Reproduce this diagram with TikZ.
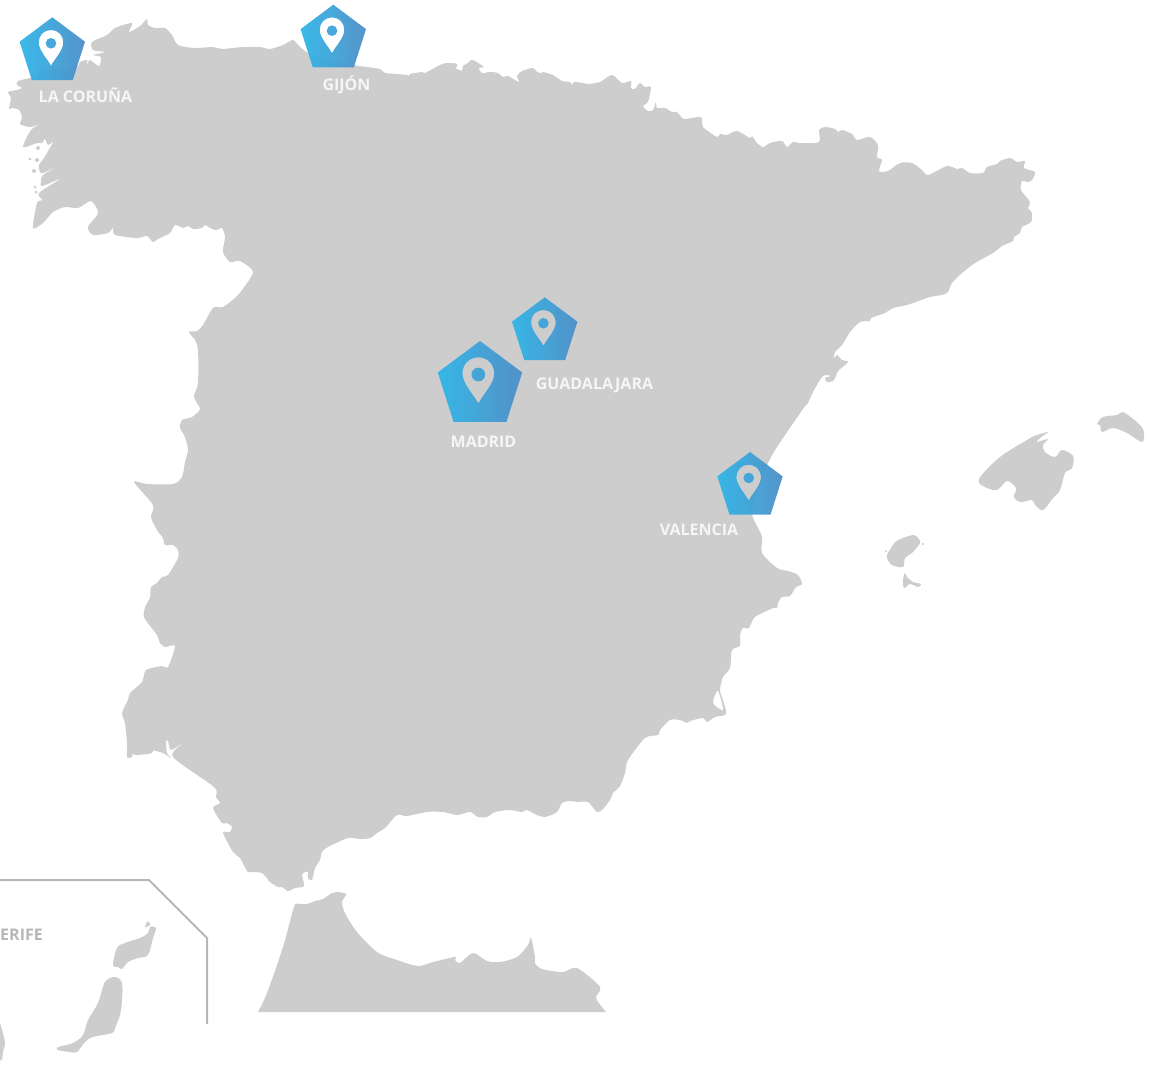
\documentclass[tikz,border=0pt]{standalone}
\usepackage{fontspec}
\setmainfont{Open Sans}
\definecolor{land}{HTML}{CDCDCD}
\definecolor{gradL}{HTML}{2FB6E8}
\definecolor{gradR}{HTML}{4D8EC7}
\definecolor{inset}{HTML}{B6B6B6}
\definecolor{labelw}{HTML}{F6F6F6}
\tikzset{
  landmass/.style={fill=land,draw=none},
  citylabel/.style={text=labelw,font=\bfseries\fontsize{16bp}{18bp}\selectfont,inner sep=0pt,anchor=base},
  insetlabel/.style={text=inset,font=\bfseries\fontsize{16bp}{18bp}\selectfont,inner sep=0pt,anchor=base east},
  insetline/.style={draw=inset,line width=2bp},
  markshade/.style={even odd rule,left color=gradL,right color=gradR,opacity=.95}
}
\newcommand{\pinmark}[3]{%
  \begin{scope}[shift={(#1,#2)},scale=#3]
    \shade[markshade]
      (0,0) -- (32.7,24.4) -- (20.5,62.7) -- (-20.5,62.7) -- (-32.7,24.4) -- cycle
      (-1.3,48.4) .. controls (-5.3,41) and (-13.6,33) .. (-13.6,25)
        .. controls (-13.6,18) and (-8.3,12.7) .. (-1.3,12.7)
        .. controls (5.7,12.7) and (11,18) .. (11,25)
        .. controls (11,33) and (2.7,41) .. (-1.3,48.4) -- cycle
      (-1.3,26) circle (5.3);
  \end{scope}}
\begin{document}
\begin{tikzpicture}[x=1bp,y=-1bp]
\useasboundingbox (0,0) rectangle (1154,1079);
% Iberian peninsula
\fill[landmass] plot[smooth cycle,tension=.45] coordinates {
(18,81)(30,78)(38,75)(40,70)(75,68)(80,62)(87,60)(87,65)(90,60)(99,66)(101,57)(93,55)(105,52)(93,50)(92,42)
(107,35)(115,28)(132,23)(129,32)(140,26)(147,19)(148,25)(155,28)(165,28)(172,35)(178,45)(195,48)(213,47)(222,49)
(243,47)(260,47)(270,49)(283,45)(293,40)(300,47)(308,53)(315,57)(353,65)
(367,67)(380,69)(385,73)(397,74)(407,75)(409,76)(410,74)(422,72)(425,73)(440,65)(447,63)(457,64)(455,71)(457,69)
(462,71)(463,66)(468,63)(471,60)(475,61)(484,67)(479,68)(482,73)(490,72)(498,73)(503,77)(508,76)(519,82)(517,76)
(522,71)(533,68)(537,72)(542,73)(543,72)(553,75)(562,81)(570,82)(572,85)(574,82)(583,83)(588,84)(600,82)(612,75)
(622,83)(631,81)(631,88)(635,89)(640,83)(645,87)(651,87)(648,102)(643,106)(648,111)(653,110)(656,102)(657,108)
(665,108)(672,112)(677,112)(684,119)(701,117)(703,127)(717,137)(720,134)(727,135)(737,131)(750,138)(752,136)
(757,143)(763,147)(770,143)(782,141)(787,147)(793,142)(800,143)(819,142)(819,130)(825,127)(835,129)(838,132)
(842,130)(852,134)(857,140)(870,137)(878,145)(877,157)(882,160)(879,171)(888,171)(900,163)(912,163)(922,170)
(928,175)(947,166)(957,169)(962,168)(970,173)(983,173)(987,167)(997,164)(1000,161)(1010,158)(1017,162)(1025,161)
(1024,168)(1035,172)(1032,180)(1028,182)(1022,181)(1021,190)(1030,202)(1028,208)(1032,213)(1031,222)(1022,227)
(1020,233)(1014,237)(1013,241)(1002,246)(993,253)(975,263)(962,273)(952,283)(948,292)(942,295)(930,297)(907,305)
(893,308)(885,313)(871,318)(870,321)(860,322)(850,332)(842,345)(835,352)(834,358)(837,355)(842,360)(848,362)
(838,371)(836,376)(833,381)(827,382)(825,378)(831,376)(823,376)(813,392)(808,403)(803,409)(777,447)(768,463)
(762,480)(755,497)(752,513)(754,520)(762,537)(762,553)(777,568)(788,571)(798,575)(802,584)(796,587)(790,596)
(782,597)(778,603)(777,608)(773,608)(755,617)(749,628)(743,628)(740,635)(740,646)(732,650)(730,668)(723,677)
(720,690)(723,700)(726,711)(725,715)(715,717)(707,722)(703,718)(690,721)(687,723)(680,720)(670,720)(660,730)
(658,735)(645,738)(628,760)(625,773)(620,786)(613,793)(610,800)(603,809)(597,812)(588,802)(578,802)(570,801)
(562,803)(557,812)(545,817)(537,815)(527,810)(522,812)(510,810)(495,812)(487,817)(478,817)(470,812)(457,815)
(443,812)(427,812)(407,816)(397,815)(385,828)(377,833)(370,838)(360,839)(348,838)(328,847)(322,852)(320,860)
(315,868)(312,880)(308,878)(308,872)(305,872)(302,875)(304,886)(295,888)(288,891)(282,887)(278,887)(270,882)
(262,873)(250,872)(247,871)(240,858)(233,852)(223,833)(227,832)(230,832)(232,827)(227,823)(222,823)(213,808)
(220,803)(216,797)(214,787)(173,757)(182,744)(171,750)(168,741)(166,741)(167,753)(171,758)(163,753)(153,750)
(153,746)(152,753)(135,755)(133,753)(132,757)(127,757)(127,743)(125,723)(122,713)(128,700)(130,693)(142,682)
(146,670)(162,666)(168,667)(175,646)(165,647)(160,643)(157,635)(144,617)(146,605)(150,598)(151,587)(157,583)
(162,577)(168,575)(178,558)(178,550)(173,545)(165,545)(163,538)(157,530)(151,517)(153,505)(134,482)(147,484)
(173,484)(182,477)(185,462)(188,450)(185,437)(180,428)(182,420)(192,417)(200,409)(194,397)(198,383)(198,350)
(195,340)(189,332)(197,331)(203,325)(213,308)(223,307)(235,298)(242,290)(253,272)(240,261)(230,262)(223,252)
(225,237)(222,228)(217,230)(212,229)(205,225)(202,228)(193,229)(188,226)(183,228)(175,225)(170,233)(158,239)
(153,242)(147,236)(137,238)(115,235)(113,228)(108,233)(93,235)(88,227)(98,213)(91,201)(78,208)(65,207)(53,212)
(43,223)(33,228)(37,203)(42,200)(39,193)(60,179)(42,186)(41,181)(43,175)(57,167)(43,173)(40,172)(39,165)(44,158)
(53,142)(48,145)(45,139)(42,143)(37,143)(23,147)(31,130)(40,124)(31,127)(25,126)(20,124)(22,117)(19,110)(12,108)
(9,109)(11,98)(8,92)(17,90)(22,88)(17,85)};
% Ria islets
\fill[landmass] (38,148) circle (2) (37,160) circle (2) (30,159) circle (1.5) (34,171) circle (2) (35,187) circle (1.5) (36,192) circle (1.5);
% Mar Menor
\fill[white] plot[smooth cycle,tension=.5] coordinates {(717,691)(713,702)(717,707)(722,710)(723,709)(721,700)(719,693)};
% North Africa
\fill[landmass] plot[smooth,tension=.5] coordinates {
(258,1012)(267,993)(283,947)(294,907)(298,904)(307,904)(315,901)(323,899)(332,893)(337,892)(346,894)(342,902)
(345,913)(357,932)(377,952)(397,960)(418,966)(433,962)(455,957)(455,960)(460,963)(473,953)(487,961)(500,962)
(517,957)(528,945)(531,938)(535,957)(535,963)(542,969)(563,972)(577,968)(600,987)(596,998)(606,1012)} -- cycle;
% Balearic islands
\fill[landmass] plot[smooth cycle,tension=.55] coordinates {
(979,479)(1000,457)(1027,440)(1030,438)(1037,435)(1048,432)(1040,438)(1037,442)(1048,439)(1043,445)(1045,452)
(1055,457)(1062,450)(1073,456)(1072,468)(1065,473)(1060,490)(1053,498)(1043,510)(1035,505)(1032,500)(1020,502)
(1014,497)(1016,488)(1007,481)(997,490)(985,487)};
\fill[landmass] plot[smooth cycle,tension=.55] coordinates {
(1097,424)(1103,417)(1117,415)(1122,412)(1128,415)(1140,425)(1144,432)(1142,442)(1127,433)(1113,428)(1102,432)(1100,425)};
\fill[landmass] plot[smooth cycle,tension=.55] coordinates {
(887,558)(888,553)(893,545)(898,540)(913,535)(918,538)(920,543)(912,553)(905,558)(903,567)(892,565)};
\fill[landmass] (923,544) circle (1.1) (886,551) circle (1.1);
\fill[landmass] plot[smooth cycle,tension=.5] coordinates {
(905,573)(907,577)(913,582)(921,584)(918,587)(910,584)(904,588)(903,580)};
% Canary islands
\fill[landmass] plot[smooth cycle,tension=.55] coordinates {
(113,965)(117,948)(125,943)(140,938)(148,933)(150,927)(156,928)(153,938)(148,955)(138,958)(128,962)(122,969)(118,967)};
\fill[landmass] plot[smooth cycle,tension=.5] coordinates {(145,927)(148,921)(150,925)};
\fill[landmass] plot[smooth cycle,tension=.55] coordinates {
(105,982)(115,977)(122,983)(122,1000)(120,1015)(115,1028)(112,1033)(93,1037)(85,1042)(77,1052)(70,1052)(58,1050)
(58,1047)(73,1043)(83,1035)(88,1020)(98,1003)};
\fill[landmass] plot[smooth,tension=.5] coordinates {(0,1023)(5,1042)(3,1052)(2,1060)(0,1060)} -- cycle;
% Inset frame
\coordinate (fa) at (0,880);
\coordinate (fb) at (149,880);
\coordinate (fc) at (207,938);
\coordinate (fd) at (207,1024);
\draw[insetline] (fa) -- (fb) -- (fc) -- (fd);
\node[insetlabel] (tf) at (43,940.5) {ERIFE};
% Markers
\pinmark{52.3}{17.3}{1}
\pinmark{333.3}{4.7}{1}
\pinmark{544.7}{297.3}{1}
\pinmark{480}{341}{1.29}
\pinmark{750}{452}{1}
% Labels
\node[citylabel] (coruna) at (85.5,102.5) {LA CORUÑA};
\node[citylabel] (gijon) at (346.5,90.5) {GIJÓN};
\node[citylabel] (guada) at (594.5,389.5) {GUADALAJARA};
\node[citylabel] (madrid) at (483.5,447.5) {MADRID};
\node[citylabel] (valencia) at (699,535.5) {VALENCIA};
\end{tikzpicture}
\end{document}
